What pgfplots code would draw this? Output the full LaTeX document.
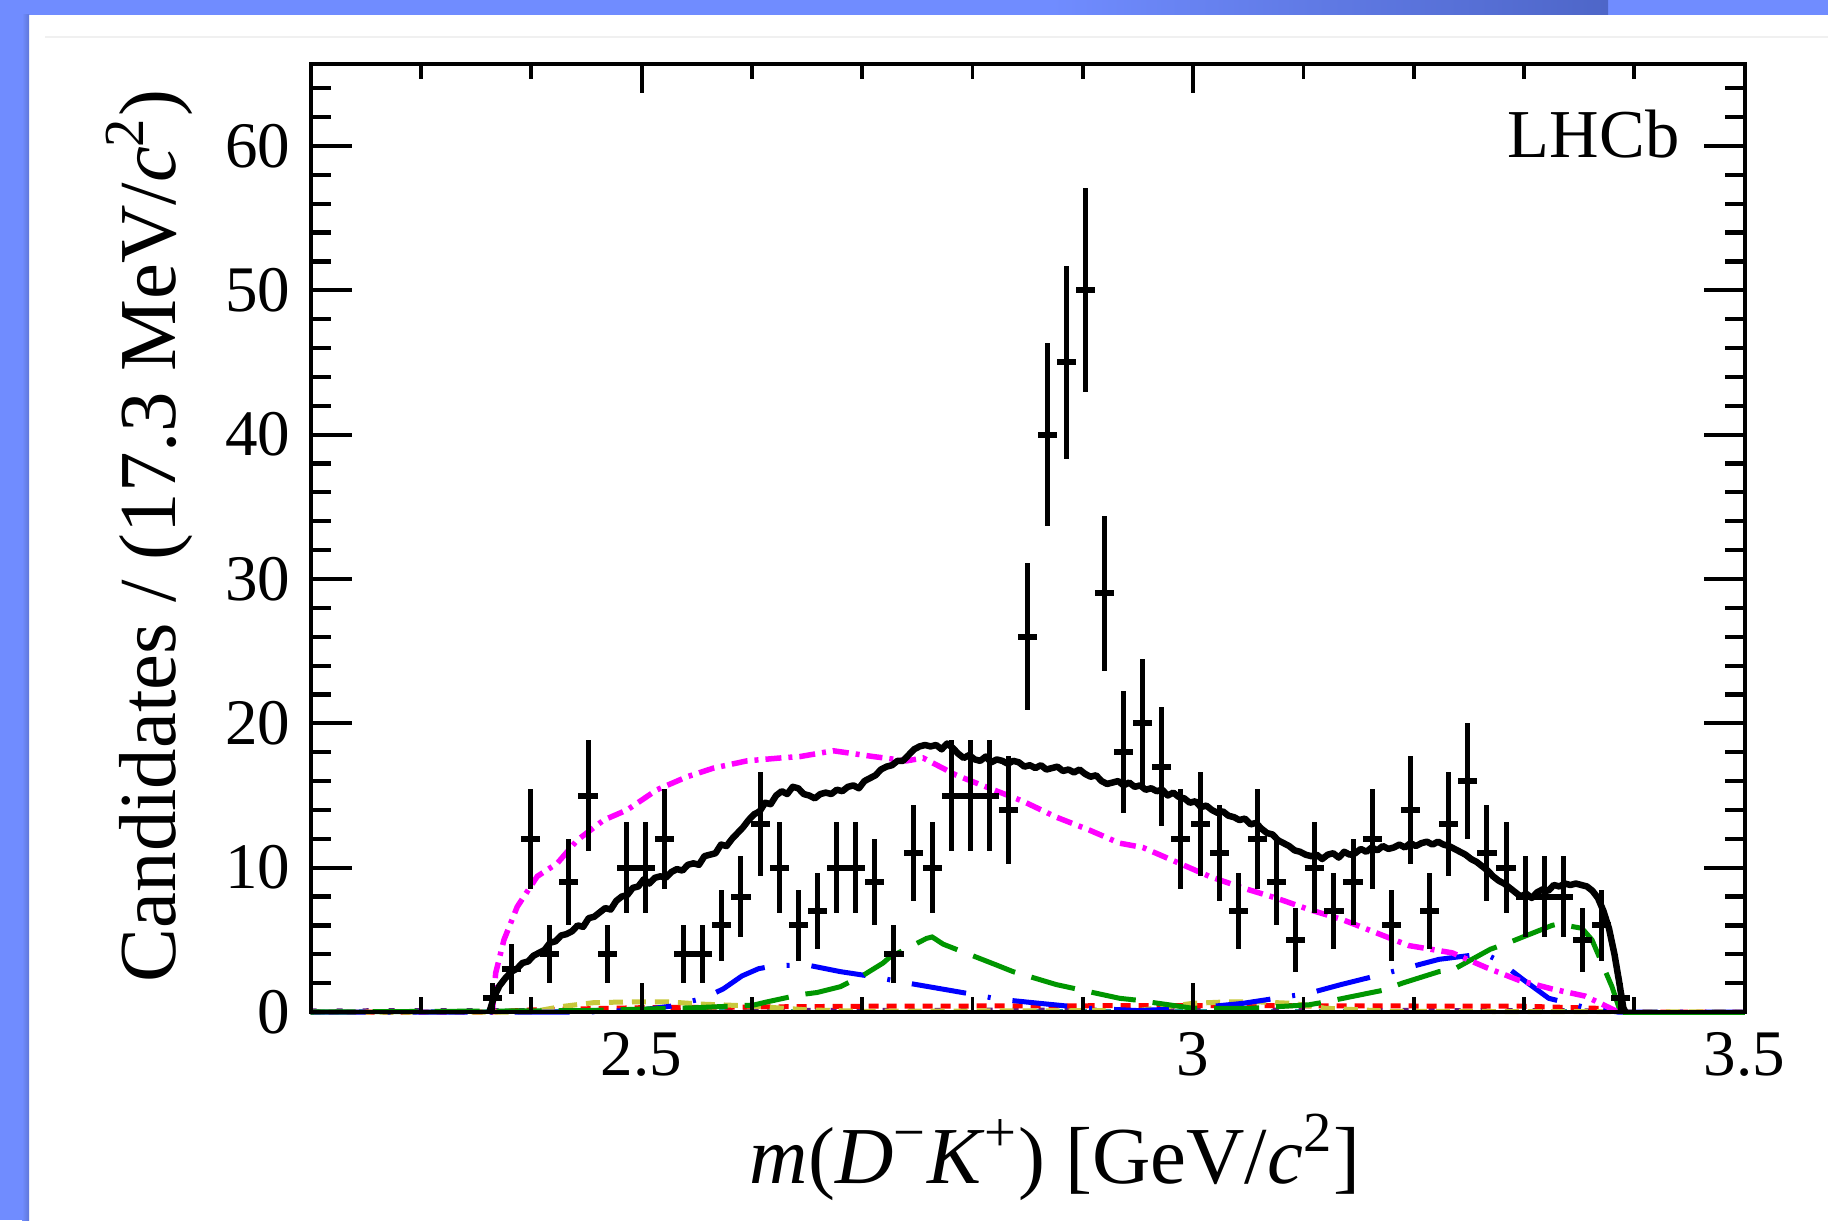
\documentclass[border=0pt]{standalone}
\usepackage{fontspec}
\setmainfont{Liberation Serif}
\usepackage{pgfplots}
\pgfplotsset{compat=1.18}
\usepackage{pgfplotstable}
\definecolor{frameblue}{RGB}{112,140,255}
\definecolor{darkframe}{RGB}{78,102,200}
\definecolor{rgreen}{RGB}{0,150,0}
\definecolor{ryellow}{RGB}{200,200,60}
\definecolor{rpurple}{RGB}{100,30,130}
\definecolor{rcyan}{RGB}{40,160,160}
\definecolor{rmagenta}{RGB}{255,0,255}
\definecolor{rblue}{RGB}{0,0,255}
\definecolor{rred}{RGB}{255,0,0}

\pgfplotstableread{
x y ex ey
2.3647 1 0.00867 1.00
2.3820 3 0.00867 1.73
2.3994 12 0.00867 3.46
2.4167 4 0.00867 2.00
2.4341 9 0.00867 3.00
2.4514 15 0.00867 3.87
2.4687 4 0.00867 2.00
2.4861 10 0.00867 3.16
2.5034 10 0.00867 3.16
2.5208 12 0.00867 3.46
2.5381 4 0.00867 2.00
2.5554 4 0.00867 2.00
2.5728 6 0.00867 2.45
2.5901 8 0.00867 2.83
2.6075 13 0.00867 3.61
2.6248 10 0.00867 3.16
2.6421 6 0.00867 2.45
2.6595 7 0.00867 2.65
2.6768 10 0.00867 3.16
2.6942 10 0.00867 3.16
2.7115 9 0.00867 3.00
2.7288 4 0.00867 2.00
2.7462 11 0.00867 3.32
2.7635 10 0.00867 3.16
2.7809 15 0.00867 3.87
2.7982 15 0.00867 3.87
2.8155 15 0.00867 3.87
2.8329 14 0.00867 3.74
2.8502 26 0.00867 5.10
2.8676 40 0.00867 6.32
2.8849 45 0.00867 6.71
2.9022 50 0.00867 7.07
2.9196 29 0.00867 5.39
2.9369 18 0.00867 4.24
2.9543 20 0.00867 4.47
2.9716 17 0.00867 4.12
2.9889 12 0.00867 3.46
3.0063 13 0.00867 3.61
3.0236 11 0.00867 3.32
3.0410 7 0.00867 2.65
3.0583 12 0.00867 3.46
3.0756 9 0.00867 3.00
3.0930 5 0.00867 2.24
3.1103 10 0.00867 3.16
3.1277 7 0.00867 2.65
3.1450 9 0.00867 3.00
3.1623 12 0.00867 3.46
3.1797 6 0.00867 2.45
3.1970 14 0.00867 3.74
3.2144 7 0.00867 2.65
3.2317 13 0.00867 3.61
3.2490 16 0.00867 4.00
3.2664 11 0.00867 3.32
3.2837 10 0.00867 3.16
3.3011 8 0.00867 2.83
3.3184 8 0.00867 2.83
3.3357 8 0.00867 2.83
3.3531 5 0.00867 2.24
3.3704 6 0.00867 2.45
3.3878 1 0.00867 1.00
}\datatab

\begin{document}
\begin{tikzpicture}
% page background and screenshot frame
\fill[white] (0,0) rectangle (182.8mm,122mm);
\fill[frameblue] (0,0) rectangle (2.9mm,122mm);
\fill[frameblue] (0,120.5mm) rectangle (182.8mm,122mm);
\shade[left color=frameblue, right color=darkframe] (105mm,120.5mm) rectangle (160.8mm,122mm);
\shade[left color=frameblue, right color=frameblue!85!black] (2.2mm,0) rectangle (2.9mm,120.5mm);
\draw[gray!12, line width=0.2mm] (4.5mm,118.3mm) -- (182.8mm,118.3mm);

\begin{axis}[
  at={(31.07mm,20.8mm)}, anchor=south west, scale only axis,
  width=143.39mm, height=94.8mm,
  xmin=2.2, xmax=3.5, ymin=0, ymax=65.68,
  clip=false,
  axis line style={line width=0.4mm},
  xtick=\empty,
  ytick={0,10,20,30,40,50,60},
  minor ytick={2,4,6,8,12,14,16,18,22,24,26,28,32,34,36,38,42,44,46,48,52,54,56,58,62,64},
  major tick length=4.1mm, minor tick length=2mm,
  every tick/.style={black, line width=0.42mm},
  tick align=inside,
  /pgf/number format/assume math mode=true,
  yticklabel style={font=\fontsize{18.5}{20}\selectfont, xshift=-0.8mm},
  ylabel={Candidates / (17.3 MeV/\textit{c}\textsuperscript{2})},
  ylabel style={at={(axis description cs:-0.0946,0.502)}, anchor=base, rotate=0, font=\fontsize{23}{26}\selectfont},
]
% near-zero components
\addplot[black!75, line width=0.45mm, dash pattern=on 1mm off 1mm] coordinates {(2.2,0) (3.5,0)};
\addplot[rcyan, line width=0.45mm, dash pattern=on 0.8mm off 1.6mm] coordinates {(2.2,0.05) (3.39,0.05)};
\addplot[rpurple, line width=0.45mm, dash pattern=on 0.6mm off 2mm] coordinates {(2.2,0.1) (2.4,0.12) (3.0,0.15) (3.38,0.1)};
\addplot[rred, line width=0.5mm, dash pattern=on 1mm off 0.8mm] coordinates {
(2.20,0) (2.365,0) (2.40,0.15) (2.50,0.3) (2.70,0.4) (3.0,0.45) (3.3,0.4) (3.37,0.25) (3.39,0) (3.5,0)};
\addplot[ryellow, line width=0.5mm, dash pattern=on 1.4mm off 0.9mm] coordinates {
(2.20,0) (2.40,0) (2.4265,0.37) (2.4567,0.65) (2.496,0.71) (2.523,0.71) (2.553,0.55) (2.598,0.42)
(2.65,0.15) (2.70,0.05) (2.95,0.1) (2.9996,0.6) (3.03,0.7) (3.06,0.7) (3.09,0.6) (3.12,0.26) (3.18,0.05) (3.5,0)};
% blue component
\addplot[rblue, line width=0.5mm, dash pattern=on 5.5mm off 2.2mm on 0.3mm off 2.2mm] coordinates {
(2.20,0) (2.45,0) (2.499,0.14) (2.526,0.4) (2.556,0.95) (2.574,1.6) (2.591,2.5) (2.606,3.0) (2.62,3.2)
(2.6498,3.26) (2.68,2.8) (2.71,2.45) (2.734,2.1) (2.7644,1.7) (2.7946,1.3) (2.8247,0.88) (2.861,0.6)
(2.906,0.26) (2.95,0.1) (2.9996,0.26) (3.045,0.6) (3.105,1.3) (3.134,1.9) (3.1656,2.5) (3.1957,3.1)
(3.223,3.65) (3.2592,4.0) (3.268,3.9) (3.276,3.6) (3.30,2.2) (3.3224,0.95) (3.3525,0.37) (3.385,0) (3.5,0)};
% green component
\addplot[rgreen, line width=0.5mm, dash pattern=on 4.5mm off 1.7mm] coordinates {
(2.20,0) (2.45,0.1) (2.55,0.3) (2.6015,0.48) (2.6136,0.7) (2.6437,1.2) (2.659,1.35) (2.68,1.75)
(2.70,2.5) (2.719,3.4) (2.725,3.8) (2.7583,5.1) (2.7634,5.2) (2.7734,4.7) (2.8216,3.26) (2.8367,2.8)
(2.876,1.9) (2.9333,0.95) (2.948,0.83) (2.9996,0.26) (3.05,0.25) (3.105,0.5) (3.12,0.7) (3.1716,1.5)
(3.1897,2.0) (3.223,2.8) (3.235,2.9) (3.2695,4.35) (3.2845,4.76) (3.3254,6.0) (3.331,6.1) (3.3525,5.8)
(3.3616,5.0) (3.3797,1.76) (3.387,0.1) (3.39,0)};
\addplot[rgreen, line width=0.5mm] coordinates {(3.39,0) (3.5,0)};
% magenta component
\addplot[rmagenta, line width=0.55mm, dash pattern=on 1.6mm off 0.7mm on 0.4mm off 0.7mm] coordinates {
(2.3647,0) (2.3677,2.7) (2.3752,5.0) (2.3873,7.3) (2.4054,9.4) (2.4235,10.3) (2.4416,11.9) (2.4657,13.3)
(2.4869,14.0) (2.514,15.4) (2.5412,16.3) (2.5652,16.9) (2.5955,17.4) (2.6256,17.6) (2.6437,17.7)
(2.6738,18.1) (2.71,17.7) (2.7402,17.4) (2.7553,17.6) (2.7704,17.0) (2.7855,16.4) (2.8156,15.5)
(2.8458,14.6) (2.876,13.5) (2.9061,12.6) (2.9333,11.7) (2.9544,11.4) (2.9846,10.4) (3.0147,9.4)
(3.0449,8.6) (3.0751,7.9) (3.1052,7.1) (3.1354,6.4) (3.1656,5.5) (3.1957,4.6) (3.2349,4.1)
(3.2652,3.1) (3.2953,2.2) (3.3254,1.6) (3.3556,1.1) (3.38,0.2) (3.385,0)};
% total fit
\addplot[black, line width=0.65mm, line join=round] coordinates {
(2.362,0) (2.366,1.0) (2.371,1.8) (2.376,2.3) (2.382,2.8) (2.387,3.0) (2.392,3.4) (2.397,3.5)
(2.402,3.9) (2.407,4.1) (2.412,4.3) (2.417,4.8) (2.422,4.9) (2.427,5.3) (2.432,5.4) (2.437,5.6)
(2.442,6.0) (2.447,5.9) (2.452,6.5) (2.457,6.6) (2.462,6.9) (2.467,7.2) (2.472,7.1) (2.477,7.7)
(2.482,8.0) (2.487,8.1) (2.492,8.6) (2.497,8.7) (2.502,9.2) (2.507,8.9) (2.512,9.3) (2.517,9.4)
(2.522,9.3) (2.527,9.7) (2.532,9.9) (2.537,9.8) (2.542,10.2) (2.547,10.3) (2.552,10.2) (2.557,10.8)
(2.562,10.9) (2.567,11.0) (2.572,11.6) (2.577,11.5) (2.582,12.0) (2.587,12.4) (2.592,12.8) (2.597,13.3)
(2.602,13.7) (2.607,13.9) (2.612,14.5) (2.617,14.4) (2.622,15.0) (2.627,15.3) (2.632,15.1) (2.637,15.6)
(2.642,15.5) (2.647,15.1) (2.652,15.0) (2.657,14.8) (2.662,15.1) (2.667,15.2) (2.672,15.1) (2.677,15.4)
(2.682,15.3) (2.687,15.6) (2.692,15.7) (2.697,15.5) (2.702,16.0) (2.707,16.2) (2.712,16.4) (2.717,16.8)
(2.722,17.0) (2.727,17.1) (2.732,17.4) (2.737,17.4) (2.742,17.8) (2.747,18.2) (2.752,18.4) (2.757,18.5)
(2.762,18.4) (2.767,18.5) (2.772,18.2) (2.777,18.6) (2.782,18.3) (2.787,17.9) (2.792,17.6) (2.797,17.8)
(2.802,17.5) (2.807,17.4) (2.812,17.7) (2.817,17.3) (2.822,17.5) (2.827,17.4) (2.832,17.2) (2.837,17.4)
(2.842,17.3) (2.847,17.0) (2.852,17.1) (2.857,16.9) (2.862,17.1) (2.867,16.8) (2.872,16.9) (2.877,17.0)
(2.882,16.7) (2.887,16.8) (2.892,16.6) (2.897,16.8) (2.902,16.5) (2.907,16.3) (2.912,16.4) (2.917,16.0)
(2.922,15.8) (2.927,15.9) (2.932,16.0) (2.937,15.7) (2.942,15.9) (2.947,15.6) (2.952,15.7) (2.957,15.4)
(2.962,15.5) (2.967,15.3) (2.972,15.4) (2.977,15.0) (2.982,15.2) (2.987,14.9) (2.992,14.8) (2.997,14.5)
(3.002,14.6) (3.007,14.2) (3.012,14.3) (3.017,14.0) (3.022,13.8) (3.027,13.9) (3.032,13.6) (3.037,13.5)
(3.042,13.3) (3.047,13.4) (3.052,13.0) (3.057,13.1) (3.062,12.7) (3.067,12.4) (3.072,12.3) (3.077,11.9)
(3.082,11.7) (3.087,11.5) (3.092,11.2) (3.097,11.1) (3.102,10.9) (3.107,10.8) (3.112,10.9) (3.117,10.6)
(3.122,10.9) (3.127,11.0) (3.132,10.7) (3.137,11.1) (3.142,10.9) (3.147,11.0) (3.152,11.3) (3.157,11.1)
(3.162,11.4) (3.167,11.2) (3.172,11.5) (3.177,11.3) (3.182,11.4) (3.187,11.6) (3.192,11.4) (3.197,11.7)
(3.202,11.5) (3.207,11.7) (3.212,11.8) (3.217,11.6) (3.222,11.8) (3.227,11.6) (3.232,11.5) (3.237,11.3)
(3.242,11.1) (3.247,10.9) (3.252,10.6) (3.257,10.4) (3.262,10.1) (3.267,9.8) (3.272,9.4) (3.277,9.1)
(3.282,8.9) (3.287,8.6) (3.292,8.3) (3.297,8.0) (3.302,8.2) (3.307,7.9) (3.312,8.3) (3.317,8.5)
(3.322,8.4) (3.327,8.8) (3.332,8.7) (3.337,8.9) (3.342,8.8) (3.347,8.9) (3.352,8.8) (3.357,8.7)
(3.362,8.4) (3.367,7.9) (3.372,7.0) (3.377,5.8) (3.382,4.0) (3.386,2.2) (3.390,0.3) (3.392,0)};
% data: vertical error bars
\addplot[draw=none, mark=none,
  error bars/.cd, y dir=both, y explicit,
  error mark=none, error bar style={draw=black, solid, line width=0.5mm}]
  table[x=x, y=y, y error=ey] {\datatab};
% data: horizontal bin-width bars
\addplot[draw=none, mark=none,
  error bars/.cd, x dir=both, x explicit,
  error mark=none, error bar style={draw=black, solid, line width=0.6mm}]
  table[x=x, y=y, x error=ex] {\datatab};
\node[anchor=base east, inner sep=0pt, font=\fontsize{19.5}{22}\selectfont] at (axis cs:3.4414,59.2) {LHCb};
\end{axis}

\begin{axis}[
  at={(31.07mm,20.8mm)}, anchor=south west, scale only axis,
  width=143.39mm, height=94.8mm,
  xmin=2.2, xmax=3.5, ymin=0, ymax=65.68,
  axis line style={line width=0.4mm},
  xtick={2.5,3,3.5},
  minor xtick={2.3,2.4,2.6,2.7,2.8,2.9,3.1,3.2,3.3,3.4},
  ytick=\empty,
  major tick length=2.9mm, minor tick length=1.5mm,
  every tick/.style={black, line width=0.38mm},
  tick align=inside,
  /pgf/number format/assume math mode=true,
  xticklabel style={font=\fontsize{18.5}{20}\selectfont, yshift=-0.8mm},
  xlabel={\textit{m}(\textit{D}\textsuperscript{−}\textit{K}\textsuperscript{+}) [GeV/\textit{c}\textsuperscript{2}]},
  xlabel style={at={(axis description cs:0.519,-0.1804)}, anchor=base, font=\fontsize{23}{26}\selectfont},
]
\addplot[draw=none] coordinates {(2.5,0)};
\end{axis}
\pgfresetboundingbox
\useasboundingbox (0,0) rectangle (182.8mm,122mm);
\end{tikzpicture}
\end{document}
